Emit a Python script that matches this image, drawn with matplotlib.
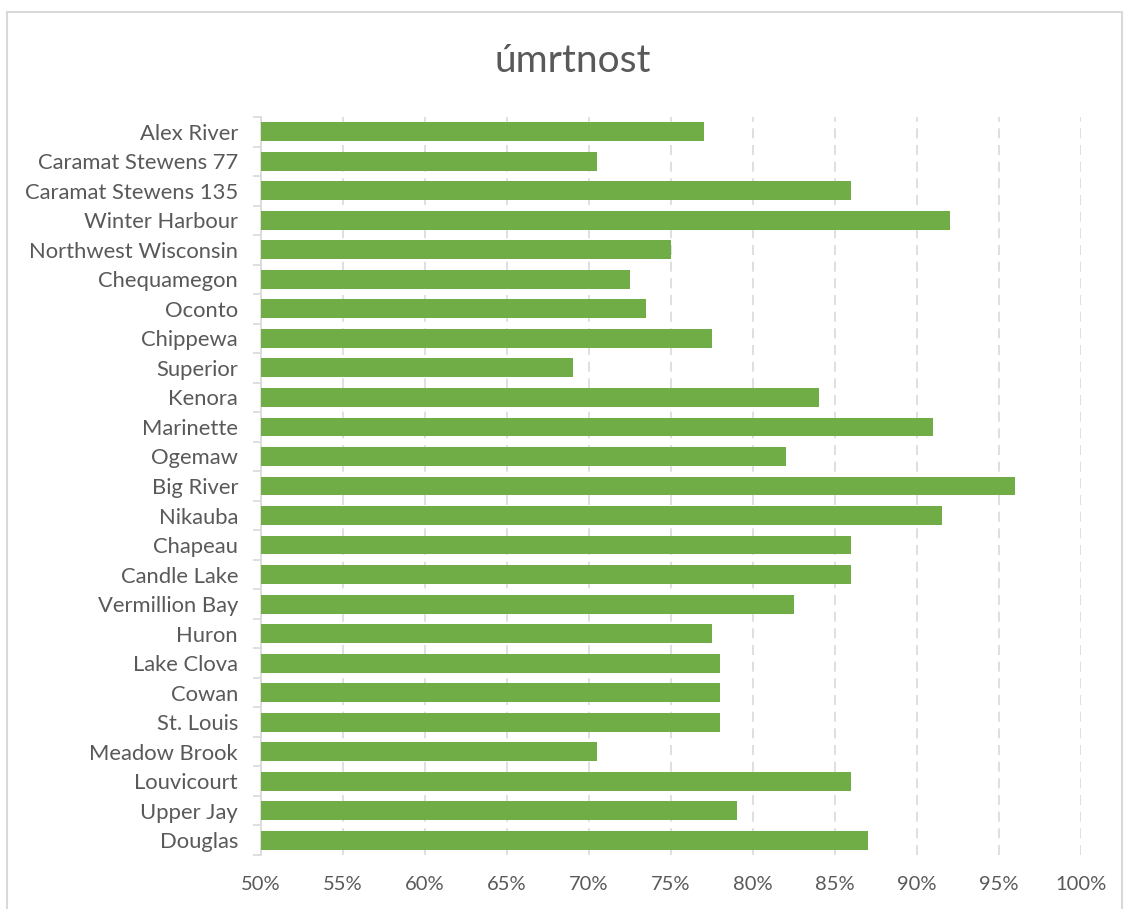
import matplotlib
matplotlib.use("Agg")
import matplotlib.pyplot as plt
from matplotlib.patches import Rectangle
from matplotlib.ticker import FuncFormatter, MultipleLocator

categories = ["Alex River", "Caramat Stewens 77", "Caramat Stewens 135", "Winter Harbour",
              "Northwest Wisconsin", "Chequamegon", "Oconto", "Chippewa", "Superior", "Kenora",
              "Marinette", "Ogemaw", "Big River", "Nikauba", "Chapeau", "Candle Lake",
              "Vermillion Bay", "Huron", "Lake Clova", "Cowan", "St. Louis", "Meadow Brook",
              "Louvicourt", "Upper Jay", "Douglas"]
values = [0.77, 0.705, 0.86, 0.92, 0.75, 0.725, 0.735, 0.775, 0.69, 0.84,
          0.91, 0.82, 0.96, 0.915, 0.86, 0.86, 0.825, 0.775, 0.78, 0.78,
          0.78, 0.705, 0.86, 0.79, 0.87]
title = "úmrtnost"

plt.rcParams['font.family'] = ['Lato', 'DejaVu Sans']
text_color = "#595959"
grid_color = "#D9D9D9"

fig = plt.figure(figsize=(11.27, 9.09), dpi=100)
fig.patch.set_facecolor("white")
# chart area border
fig.patches.append(Rectangle((7/1127, -0.01), (1122-7)/1127, 1 - 12/909 + 0.01,
                             transform=fig.transFigure, fill=False,
                             edgecolor=grid_color, linewidth=1.5))

ax = fig.add_axes([261/1127, 1 - 855/909, (1081-261)/1127, (855-117)/909])
n = len(categories)
ypos = list(range(n))
ax.barh(ypos, values, height=0.64, color="#70AD47", left=0, zorder=3)
ax.set_xlim(0.5, 1.0)
ax.set_ylim(n - 0.5, -0.5)
ax.xaxis.set_major_locator(MultipleLocator(0.05))
ax.xaxis.set_major_formatter(FuncFormatter(lambda v, p: f"{round(v*100)}%"))
ax.set_yticks(ypos)
ax.set_yticklabels(categories)
ax.set_yticks([i - 0.5 for i in range(n + 1)], minor=True)
ax.tick_params(axis='y', which='major', length=0, pad=16.5, labelsize=15.8, labelcolor=text_color)
ax.tick_params(axis='y', which='minor', length=6, color=grid_color, width=1.2)
ax.tick_params(axis='x', length=0, pad=15, labelsize=14.5, labelcolor=text_color)
for s in ["top", "right", "bottom"]:
    ax.spines[s].set_visible(False)
ax.spines["left"].set_color(grid_color)
ax.spines["left"].set_linewidth(1.2)
ax.grid(axis='x', color=grid_color, linestyle=(0, (6, 4)), linewidth=1.2, zorder=0)
ax.set_axisbelow(True)

fig.text(573/1127, 1 - 61/909, title, ha="center", va="center", fontsize=28, color=text_color)

fig.savefig("out.png", dpi=100)
